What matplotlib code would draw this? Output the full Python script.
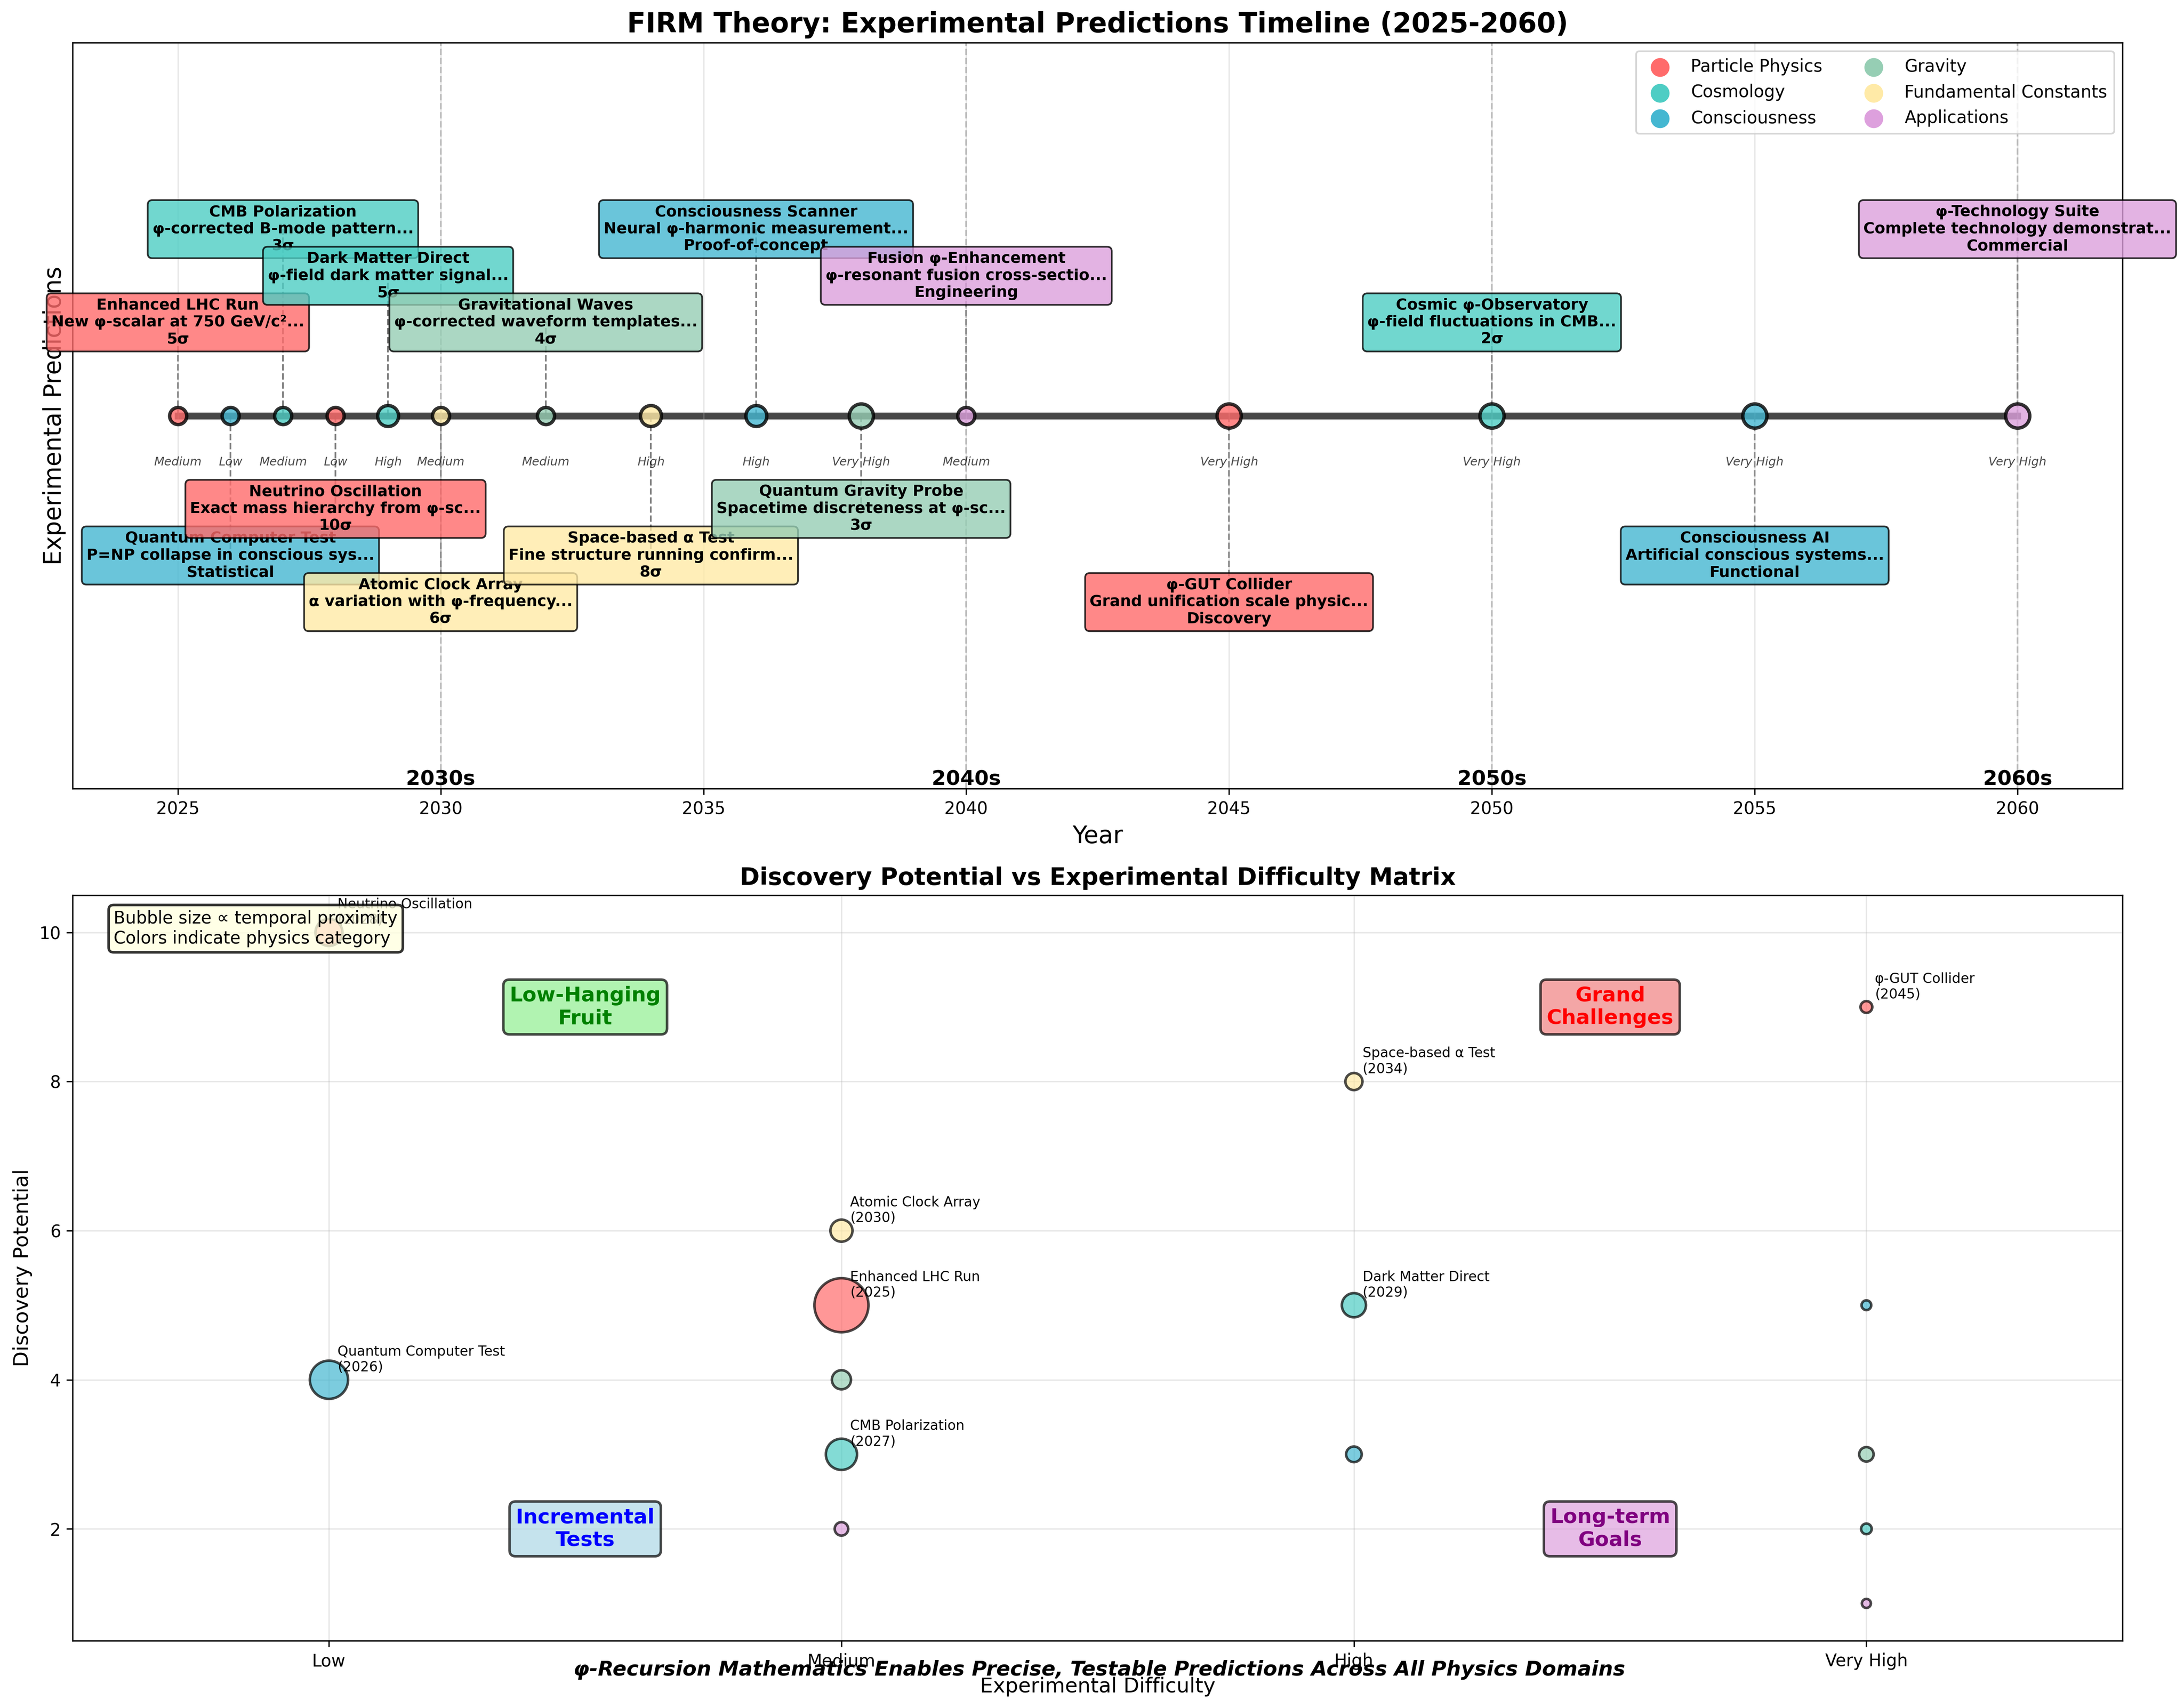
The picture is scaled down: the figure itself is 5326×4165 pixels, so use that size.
import numpy as np
import matplotlib
matplotlib.use("Agg")
import matplotlib.pyplot as plt

# experiment data
years = [2025, 2026, 2027, 2028, 2029, 2030, 2032, 2034, 2036, 2038, 2040, 2045, 2050, 2055, 2060]
names = ["Enhanced LHC Run", "Quantum Computer Test", "CMB Polarization", "Neutrino Oscillation",
         "Dark Matter Direct", "Atomic Clock Array", "Gravitational Waves", "Space-based α Test",
         "Consciousness Scanner", "Quantum Gravity Probe", "Fusion φ-Enhancement", "φ-GUT Collider",
         "Cosmic φ-Observatory", "Consciousness AI", "φ-Technology Suite"]
descriptions = ["New φ-scalar at 750 GeV/c²...", "P=NP collapse in conscious sys...",
                "φ-corrected B-mode pattern...", "Exact mass hierarchy from φ-sc...",
                "φ-field dark matter signal...", "α variation with φ-frequency...",
                "φ-corrected waveform templates...", "Fine structure running confirm...",
                "Neural φ-harmonic measurement...", "Spacetime discreteness at φ-sc...",
                "φ-resonant fusion cross-sectio...", "Grand unification scale physic...",
                "φ-field fluctuations in CMB...", "Artificial conscious systems...",
                "Complete technology demonstrat..."]
significance = ["5σ", "Statistical", "3σ", "10σ", "5σ", "6σ", "4σ", "8σ", "Proof-of-concept",
                "3σ", "Engineering", "Discovery", "2σ", "Functional", "Commercial"]
difficulty = ["Medium", "Low", "Medium", "Low", "High", "Medium", "Medium", "High", "High",
              "Very High", "Medium", "Very High", "Very High", "Very High", "Very High"]
category = ["Particle Physics", "Consciousness", "Cosmology", "Particle Physics", "Cosmology",
            "Fundamental Constants", "Gravity", "Fundamental Constants", "Consciousness", "Gravity",
            "Applications", "Particle Physics", "Cosmology", "Consciousness", "Applications"]
potential = [5, 4, 3, 10, 5, 6, 4, 8, 3, 3, 2, 9, 2, 5, 1]

categories = ["Particle Physics", "Cosmology", "Consciousness", "Gravity",
              "Fundamental Constants", "Applications"]
cat_colors = {"Particle Physics": "#FF6B6B", "Cosmology": "#4ECDC4", "Consciousness": "#45B7D1",
              "Gravity": "#96CEB4", "Fundamental Constants": "#FFEAA7", "Applications": "#DDA0DD"}
diff_levels = ["Low", "Medium", "High", "Very High"]
decades = [2030, 2040, 2050, 2060]

fig = plt.figure(figsize=(5326 / 300, 4165 / 300), dpi=300)
ax1 = fig.add_axes([0.0333, 0.5383, 0.9719 - 0.0333, 0.975 - 0.5383])
ax2 = fig.add_axes([0.0333, 0.0394, 0.9719 - 0.0333, 0.4759 - 0.0394])

# ---- timeline ----
ax1.plot([years[0], years[-1]], [0, 0], color="#333333", linewidth=4, alpha=0.9, zorder=1)
size_map = {"Low": 100, "Medium": 100, "High": 150, "Very High": 200}

for i, yr in enumerate(years):
    col = cat_colors[category[i]]
    ax1.scatter(yr, 0, s=size_map[difficulty[i]], c=col, edgecolors="black",
                linewidths=2, alpha=0.8, zorder=3)
    off = 0.2 + 0.1 * (i % 3)
    if i % 2 == 1:
        off = -off
    ax1.plot([yr, yr], [0, off], color="black", linestyle="--", linewidth=1, alpha=0.5, zorder=0)
    ax1.text(yr, off, f"{names[i]}\n{descriptions[i]}\n{significance[i]}",
             ha="center", va="center", fontsize=9, fontweight="bold", zorder=4,
             bbox=dict(boxstyle="round,pad=0.3", facecolor=col, edgecolor="black", alpha=0.8))
    ax1.text(yr, -0.1, difficulty[i], ha="center", va="center", fontsize=7,
             style="italic", alpha=0.7)

for d in decades:
    ax1.axvline(d, color="gray", linestyle="--", alpha=0.5, linewidth=1, zorder=0)
    ax1.text(d, -0.78, f"{d}s", ha="center", va="center", fontsize=12, fontweight="bold")

for cat in categories:
    ax1.scatter([], [], c=cat_colors[cat], s=100, label=cat)
ax1.legend(loc="upper right", ncol=2, fontsize=10)

ax1.set_xlim(2023, 2062)
ax1.set_ylim(-0.8, 0.8)
ax1.set_yticks([])
ax1.grid(True, axis="x", alpha=0.3)
ax1.set_xlabel("Year", fontsize=14)
ax1.set_ylabel("Experimental Predictions", fontsize=14)
ax1.set_title("FIRM Theory: Experimental Predictions Timeline (2025-2060)",
              fontsize=16, fontweight="bold")

# ---- matrix ----
xs = [diff_levels.index(d) for d in difficulty]
sizes = [1000 / (yr - 2024) for yr in years]
colors = [cat_colors[c] for c in category]
ax2.scatter(xs, potential, s=sizes, c=colors, alpha=0.7, edgecolors="black", linewidths=1.5, zorder=3)

for i, yr in enumerate(years):
    if yr <= 2030 or potential[i] >= 8:
        ax2.annotate(f"{names[i]}\n({yr})", (xs[i], potential[i]), xytext=(5, 5),
                     textcoords="offset points", fontsize=8)

quads = [(0.5, 9, "Low-Hanging\nFruit", "green", "lightgreen"),
         (2.5, 9, "Grand\nChallenges", "red", "lightcoral"),
         (0.5, 2, "Incremental\nTests", "blue", "lightblue"),
         (2.5, 2, "Long-term\nGoals", "purple", "plum")]
for qx, qy, txt, tc, fc in quads:
    ax2.text(qx, qy, txt, ha="center", va="center", fontsize=12, fontweight="bold", color=tc,
             bbox=dict(boxstyle="round,pad=0.3", facecolor=fc, alpha=0.7, edgecolor="black",
                       linewidth=1.5))

ax2.text(0.02, 0.98, "Bubble size ∝ temporal proximity\nColors indicate physics category",
         transform=ax2.transAxes, fontsize=10, va="top", zorder=5,
         bbox=dict(boxstyle="round", facecolor="lightyellow", alpha=0.8, linewidth=1.5))

ax2.set_xlim(-0.5, 3.5)
ax2.set_ylim(0.5, 10.5)
ax2.set_xticks(range(4))
ax2.set_xticklabels(diff_levels)
ax2.grid(True, alpha=0.3)
ax2.set_xlabel("Experimental Difficulty", fontsize=12)
ax2.set_ylabel("Discovery Potential", fontsize=12)
ax2.set_title("Discovery Potential vs Experimental Difficulty Matrix", fontsize=14, fontweight="bold")

fig.text(0.5034, 0.0223, "φ-Recursion Mathematics Enables Precise, Testable Predictions Across All Physics Domains",
         ha="center", va="center", fontsize=12, style="italic", fontweight="bold")

fig.savefig("out.png", dpi=300)
